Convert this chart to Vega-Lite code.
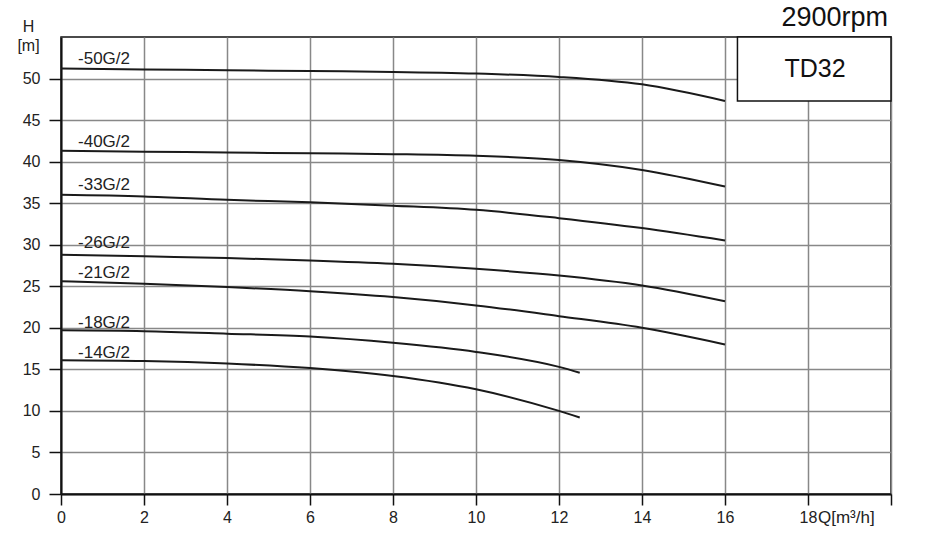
{
  "$schema": "https://vega.github.io/schema/vega-lite/v6.json",
  "width": 830,
  "height": 457,
  "autosize": {"type": "none"},
  "padding": {"left": 61, "top": 37, "right": 40, "bottom": 39},
  "config": {
    "font": "Liberation Sans",
    "view": {"stroke": "#111", "strokeWidth": 1.5},
    "axis": {
      "grid": true, "gridColor": "#888", "gridWidth": 1.5,
      "domainColor": "#111", "domainWidth": 2,
      "tickColor": "#111", "tickWidth": 1.5,
      "labelFontSize": 16, "labelColor": "#222", "labelFlush": false
    }
  },
  "datasets": {
    "curves": [
      {"model": "-50G/2", "q": 0, "h": 51.2}, {"model": "-50G/2", "q": 2, "h": 51.1}, {"model": "-50G/2", "q": 4, "h": 51.0},
      {"model": "-50G/2", "q": 6, "h": 50.9}, {"model": "-50G/2", "q": 8, "h": 50.8}, {"model": "-50G/2", "q": 10, "h": 50.6},
      {"model": "-50G/2", "q": 12, "h": 50.2}, {"model": "-50G/2", "q": 14, "h": 49.3}, {"model": "-50G/2", "q": 16, "h": 47.3},
      {"model": "-40G/2", "q": 0, "h": 41.3}, {"model": "-40G/2", "q": 2, "h": 41.2}, {"model": "-40G/2", "q": 4, "h": 41.1},
      {"model": "-40G/2", "q": 6, "h": 41.0}, {"model": "-40G/2", "q": 8, "h": 40.9}, {"model": "-40G/2", "q": 10, "h": 40.7},
      {"model": "-40G/2", "q": 12, "h": 40.2}, {"model": "-40G/2", "q": 14, "h": 39.0}, {"model": "-40G/2", "q": 16, "h": 37.0},
      {"model": "-33G/2", "q": 0, "h": 36.0}, {"model": "-33G/2", "q": 2, "h": 35.8}, {"model": "-33G/2", "q": 4, "h": 35.4},
      {"model": "-33G/2", "q": 6, "h": 35.1}, {"model": "-33G/2", "q": 8, "h": 34.7}, {"model": "-33G/2", "q": 10, "h": 34.2},
      {"model": "-33G/2", "q": 12, "h": 33.2}, {"model": "-33G/2", "q": 14, "h": 32.0}, {"model": "-33G/2", "q": 16, "h": 30.5},
      {"model": "-26G/2", "q": 0, "h": 28.8}, {"model": "-26G/2", "q": 2, "h": 28.6}, {"model": "-26G/2", "q": 4, "h": 28.4},
      {"model": "-26G/2", "q": 6, "h": 28.1}, {"model": "-26G/2", "q": 8, "h": 27.7}, {"model": "-26G/2", "q": 10, "h": 27.1},
      {"model": "-26G/2", "q": 12, "h": 26.3}, {"model": "-26G/2", "q": 14, "h": 25.1}, {"model": "-26G/2", "q": 16, "h": 23.2},
      {"model": "-21G/2", "q": 0, "h": 25.6}, {"model": "-21G/2", "q": 2, "h": 25.3}, {"model": "-21G/2", "q": 4, "h": 24.9},
      {"model": "-21G/2", "q": 6, "h": 24.4}, {"model": "-21G/2", "q": 8, "h": 23.7}, {"model": "-21G/2", "q": 10, "h": 22.7},
      {"model": "-21G/2", "q": 12, "h": 21.4}, {"model": "-21G/2", "q": 14, "h": 20.0}, {"model": "-21G/2", "q": 16, "h": 18.0},
      {"model": "-18G/2", "q": 0, "h": 19.7}, {"model": "-18G/2", "q": 2, "h": 19.6}, {"model": "-18G/2", "q": 4, "h": 19.3},
      {"model": "-18G/2", "q": 6, "h": 18.95}, {"model": "-18G/2", "q": 8, "h": 18.2}, {"model": "-18G/2", "q": 10, "h": 17.1},
      {"model": "-18G/2", "q": 12, "h": 15.3}, {"model": "-18G/2", "q": 12.5, "h": 14.6},
      {"model": "-14G/2", "q": 0, "h": 16.1}, {"model": "-14G/2", "q": 2, "h": 16.0}, {"model": "-14G/2", "q": 4, "h": 15.7},
      {"model": "-14G/2", "q": 6, "h": 15.15}, {"model": "-14G/2", "q": 8, "h": 14.2}, {"model": "-14G/2", "q": 10, "h": 12.6},
      {"model": "-14G/2", "q": 12, "h": 10.0}, {"model": "-14G/2", "q": 12.5, "h": 9.2}
    ],
    "labels": [
      {"model": "-50G/2", "q": 0.41, "h": 52.3},
      {"model": "-40G/2", "q": 0.41, "h": 42.4},
      {"model": "-33G/2", "q": 0.41, "h": 37.2},
      {"model": "-26G/2", "q": 0.41, "h": 30.2},
      {"model": "-21G/2", "q": 0.41, "h": 26.6},
      {"model": "-18G/2", "q": 0.41, "h": 20.6},
      {"model": "-14G/2", "q": 0.41, "h": 17.0}
    ],
    "box": [
      {"q1": 16.3, "q2": 20, "h1": 47.3, "h2": 55, "qc": 18.17, "hc": 51.1, "text": "TD32"}
    ],
    "unit": [
      {"q": 18.24, "h": -2.9, "text": "Q[m³/h]"}
    ],
    "speed": [
      {"q": 19.93, "h": 56.3, "text": "2900rpm"}
    ]
  },
  "layer": [
    {
      "data": {"name": "curves"},
      "mark": {"type": "line", "color": "#1a1a1a", "strokeWidth": 2, "interpolate": "monotone"},
      "encoding": {
        "x": {
          "field": "q", "type": "quantitative",
          "scale": {"domain": [0, 20], "nice": false},
          "axis": {
            "title": null,
            "values": [0, 2, 4, 6, 8, 10, 12, 14, 16, 18, 20],
            "labelExpr": "datum.value == 20 ? '' : datum.label",
            "tickSize": 11, "labelPadding": 4
          }
        },
        "y": {
          "field": "h", "type": "quantitative",
          "scale": {"domain": [0, 55], "nice": false},
          "axis": {
            "title": ["H", "[m]"],
            "values": [0, 5, 10, 15, 20, 25, 30, 35, 40, 45, 50],
            "titleAngle": 0, "titleAlign": "center", "titleBaseline": "alphabetic",
            "titleX": -33, "titleY": -6, "titleFontSize": 16, "titleFontWeight": "normal",
            "titleLineHeight": 19, "titleColor": "#222",
            "tickSize": 12, "labelPadding": 9
          }
        },
        "detail": {"field": "model"}
      }
    },
    {
      "data": {"name": "labels"},
      "mark": {"type": "text", "align": "left", "baseline": "middle", "fontSize": 17, "color": "#222"},
      "encoding": {
        "x": {"field": "q", "type": "quantitative"},
        "y": {"field": "h", "type": "quantitative"},
        "text": {"field": "model"}
      }
    },
    {
      "data": {"name": "box"},
      "mark": {"type": "rect", "fill": "white", "stroke": "#111", "strokeWidth": 1.5},
      "encoding": {
        "x": {"field": "q1", "type": "quantitative"},
        "x2": {"field": "q2"},
        "y": {"field": "h1", "type": "quantitative"},
        "y2": {"field": "h2"}
      }
    },
    {
      "data": {"name": "box"},
      "mark": {"type": "text", "align": "center", "baseline": "middle", "fontSize": 25, "color": "#111"},
      "encoding": {
        "x": {"field": "qc", "type": "quantitative"},
        "y": {"field": "hc", "type": "quantitative"},
        "text": {"field": "text"}
      }
    },
    {
      "data": {"name": "unit"},
      "mark": {"type": "text", "align": "left", "baseline": "middle", "fontSize": 17, "color": "#222"},
      "encoding": {
        "x": {"field": "q", "type": "quantitative"},
        "y": {"field": "h", "type": "quantitative"},
        "text": {"field": "text"}
      }
    },
    {
      "data": {"name": "speed"},
      "mark": {"type": "text", "align": "right", "baseline": "alphabetic", "fontSize": 27, "color": "#111"},
      "encoding": {
        "x": {"field": "q", "type": "quantitative"},
        "y": {"field": "h", "type": "quantitative"},
        "text": {"field": "text"}
      }
    }
  ]
}
